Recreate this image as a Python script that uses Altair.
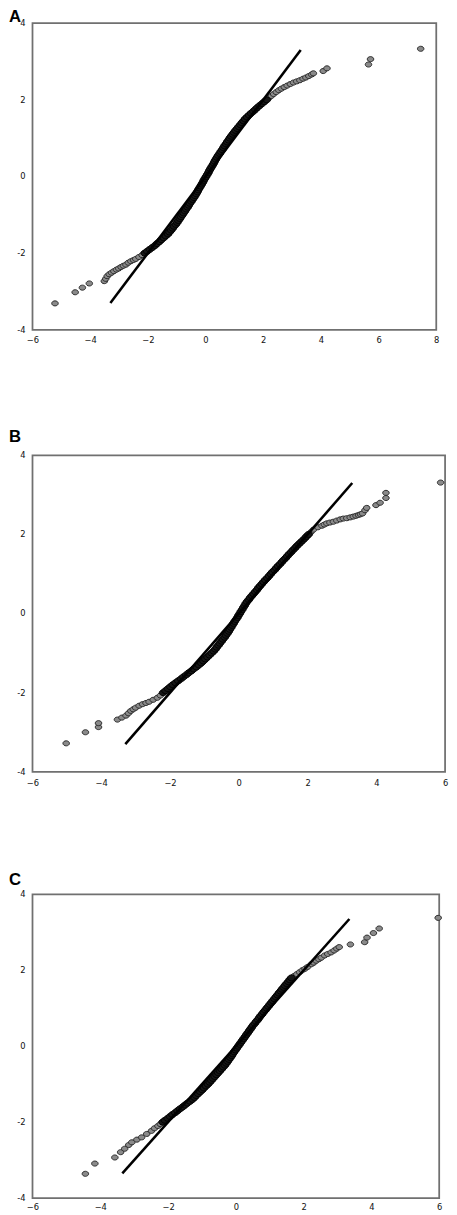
import altair as alt
import pandas as pd

# theoretical quantiles of the dense central band (shared by the three panels)
BAND_Y = [-2.00, -1.95, -1.90, -1.85, -1.80, -1.75, -1.70, -1.65, -1.60, -1.55,
          -1.50, -1.45, -1.40, -1.35, -1.30, -1.25, -1.20, -1.15, -1.10, -1.05,
          -1.00, -0.95, -0.90, -0.85, -0.80, -0.75, -0.70, -0.65, -0.60, -0.55,
          -0.50, -0.45, -0.40, -0.35, -0.30, -0.25, -0.20, -0.15, -0.10, -0.05,
          0.00, 0.05, 0.10, 0.15, 0.20, 0.25, 0.30, 0.35, 0.40, 0.45,
          0.50, 0.55, 0.60, 0.65, 0.70, 0.75, 0.80, 0.85, 0.90, 0.95,
          1.00, 1.05, 1.10, 1.15, 1.20, 1.25, 1.30, 1.35, 1.40, 1.45,
          1.50, 1.55, 1.60, 1.65, 1.70, 1.75, 1.80, 1.85, 1.90, 1.95, 2.00]

Y_TICKS = [-4, -2, 0, 2, 4]
Y_TICK_LABELS = ["-4", "-2", "0", "2", "4"]

# ---- Panel A ----
A_LOW = [(-5.22, -3.31), (-4.52, -3.02), (-4.27, -2.90), (-4.03, -2.79), (-3.51, -2.73),
         (-3.46, -2.67), (-3.41, -2.60), (-3.34, -2.55), (-3.26, -2.51), (-3.18, -2.47),
         (-3.09, -2.43), (-3.01, -2.40), (-2.93, -2.36), (-2.85, -2.33), (-2.76, -2.30),
         (-2.68, -2.25), (-2.59, -2.21), (-2.50, -2.18), (-2.42, -2.15), (-2.31, -2.10),
         (-2.20, -2.05)]
A_BAND_X = [-2.11, -2.02, -1.93, -1.84, -1.75, -1.68, -1.60, -1.53, -1.45, -1.38,
            -1.30, -1.25, -1.19, -1.14, -1.09, -1.03, -0.98, -0.94, -0.89, -0.85,
            -0.80, -0.76, -0.71, -0.67, -0.62, -0.58, -0.54, -0.49, -0.45, -0.40,
            -0.36, -0.32, -0.28, -0.25, -0.21, -0.17, -0.13, -0.09, -0.06, -0.02,
            0.02, 0.06, 0.10, 0.13, 0.17, 0.21, 0.25, 0.29, 0.32, 0.36,
            0.40, 0.44, 0.49, 0.53, 0.58, 0.62, 0.66, 0.71, 0.75, 0.80,
            0.84, 0.89, 0.94, 0.99, 1.04, 1.10, 1.15, 1.21, 1.26, 1.32,
            1.37, 1.44, 1.51, 1.58, 1.66, 1.73, 1.80, 1.88, 1.96, 2.04, 2.12]
A_HIGH = [(2.20, 2.05), (2.28, 2.10), (2.36, 2.15), (2.45, 2.20), (2.54, 2.25),
          (2.63, 2.29), (2.73, 2.33), (2.83, 2.37), (2.94, 2.41), (3.05, 2.45),
          (3.16, 2.48), (3.27, 2.51), (3.38, 2.55), (3.48, 2.58), (3.58, 2.62),
          (3.68, 2.66), (3.74, 2.69), (4.08, 2.75), (4.21, 2.82), (5.65, 2.92),
          (5.72, 3.06), (7.46, 3.33)]
A_LINE = [-3.30, 3.30]

# ---- Panel B ----
B_LOW = [(-5.02, -3.28), (-4.46, -3.00), (-4.08, -2.87), (-4.08, -2.77), (-3.53, -2.68),
         (-3.40, -2.63), (-3.28, -2.58), (-3.21, -2.52), (-3.14, -2.46), (-3.07, -2.42),
         (-3.00, -2.38), (-2.90, -2.33), (-2.80, -2.29), (-2.70, -2.26), (-2.61, -2.23),
         (-2.49, -2.18), (-2.37, -2.13), (-2.28, -2.07)]
B_BAND_X = [-2.20, -2.13, -2.06, -1.99, -1.92, -1.84, -1.76, -1.68, -1.61, -1.53,
            -1.46, -1.38, -1.31, -1.23, -1.16, -1.09, -1.03, -0.97, -0.91, -0.85,
            -0.79, -0.73, -0.68, -0.64, -0.59, -0.55, -0.50, -0.46, -0.41, -0.37,
            -0.33, -0.29, -0.26, -0.22, -0.19, -0.15, -0.12, -0.08, -0.04, -0.01,
            0.03, 0.06, 0.10, 0.13, 0.17, 0.20, 0.24, 0.29, 0.33, 0.38,
            0.43, 0.48, 0.53, 0.57, 0.62, 0.67, 0.72, 0.77, 0.83, 0.88,
            0.93, 0.98, 1.04, 1.09, 1.14, 1.20, 1.25, 1.30, 1.36, 1.41,
            1.46, 1.52, 1.57, 1.63, 1.68, 1.74, 1.80, 1.86, 1.92, 1.97, 2.03]
B_HIGH = [(2.10, 2.06), (2.17, 2.12), (2.30, 2.18), (2.42, 2.22), (2.49, 2.25),
          (2.56, 2.28), (2.65, 2.30), (2.75, 2.32), (2.85, 2.35), (2.95, 2.38),
          (3.04, 2.40), (3.14, 2.41), (3.24, 2.43), (3.33, 2.45), (3.41, 2.47),
          (3.48, 2.49), (3.54, 2.51), (3.60, 2.53), (3.67, 2.61), (3.72, 2.67),
          (3.99, 2.74), (4.11, 2.80), (4.28, 2.92), (4.28, 3.05), (5.87, 3.31)]
B_LINE = [-3.30, 3.30]

# ---- Panel C ----
C_LOW = [(-4.44, -3.36), (-4.16, -3.09), (-3.57, -2.93), (-3.40, -2.79), (-3.28, -2.70),
         (-3.16, -2.60), (-3.07, -2.53), (-2.92, -2.46), (-2.78, -2.40), (-2.63, -2.31),
         (-2.49, -2.23), (-2.40, -2.16), (-2.30, -2.10), (-2.23, -2.05)]
C_BAND_X = [-2.16, -2.09, -2.01, -1.94, -1.87, -1.79, -1.72, -1.65, -1.57, -1.50,
            -1.43, -1.35, -1.28, -1.22, -1.17, -1.11, -1.05, -0.99, -0.94, -0.88,
            -0.82, -0.77, -0.72, -0.67, -0.62, -0.57, -0.52, -0.47, -0.42, -0.37,
            -0.32, -0.28, -0.24, -0.20, -0.16, -0.12, -0.09, -0.05, -0.01, 0.03,
            0.07, 0.11, 0.15, 0.19, 0.23, 0.27, 0.31, 0.35, 0.39, 0.43,
            0.47, 0.51, 0.56, 0.60, 0.65, 0.69, 0.73, 0.78, 0.82, 0.87,
            0.91, 0.96, 1.00, 1.05, 1.09, 1.14, 1.18, 1.23, 1.27, 1.32,
            1.36, 1.41, 1.45, 1.50, 1.55, 1.59, 1.64]
C_HIGH = [(1.72, 1.85), (1.80, 1.90), (1.88, 1.95), (1.96, 2.00),
          (2.04, 2.04), (2.12, 2.09), (2.23, 2.16), (2.30, 2.20), (2.37, 2.25),
          (2.45, 2.29), (2.52, 2.33), (2.62, 2.39), (2.71, 2.43), (2.81, 2.47),
          (2.90, 2.52), (2.98, 2.57), (3.05, 2.61), (3.38, 2.68), (3.80, 2.74),
          (3.87, 2.86), (4.06, 2.98), (4.23, 3.10), (5.97, 3.38)]
C_LINE = [-3.35, 3.35]

ELLIPSE = "M -1 0 A 1 0.78 0 1 1 1 0 A 1 0.78 0 1 1 -1 0 Z"


def panel(label, low, band_x, high, line_ends, xmax, w, h, label_dy, xpad):
    tails = pd.DataFrame(low + high, columns=["sample", "theoretical"])
    band = pd.DataFrame(list(zip(band_x, BAND_Y)), columns=["sample", "theoretical"])
    ldf = pd.DataFrame({"sample": line_ends, "theoretical": line_ends})
    tdf = pd.DataFrame({"panel": [label]})
    ydf = pd.DataFrame({"tick": Y_TICKS, "ticklabel": Y_TICK_LABELS})
    xs = alt.Scale(domain=[-6, xmax], nice=False, zero=False)
    ys = alt.Scale(domain=[-4, 4], nice=False, zero=False)
    xax = alt.Axis(values=list(range(-6, xmax + 1, 2)), title=None, labelPadding=xpad,
                   labelFlush=False, labelOverlap=False,
                   labelAlign="center", labelBaseline="top")
    yax = alt.Axis(labels=False, title=None)
    enc = dict(x=alt.X("sample:Q", scale=xs, axis=xax),
               y=alt.Y("theoretical:Q", scale=ys, axis=yax))
    tail_layer = alt.Chart(tails).mark_point(
        shape=ELLIPSE, filled=True, color="#8a8a8a", stroke="#2a2a2a",
        strokeWidth=1, size=44, opacity=1
    ).encode(**enc)
    band_layer = alt.Chart(band).mark_point(
        shape=ELLIPSE, filled=True, color="#161616", stroke="#000000",
        strokeWidth=1, size=60, opacity=1
    ).encode(**enc)
    line_layer = alt.Chart(ldf).mark_line(color="black", strokeWidth=2.6).encode(
        x=alt.X("sample:Q", scale=xs, axis=xax),
        y=alt.Y("theoretical:Q", scale=ys, axis=yax),
    )
    ytick_layer = alt.Chart(ydf).mark_text(
        align="right", baseline="middle", fontSize=8.5, font="DejaVu Sans",
        color="#111111", dx=-7
    ).encode(x=alt.datum(-6), y=alt.Y("tick:Q", scale=ys, axis=yax),
             text="ticklabel:N")
    label_layer = alt.Chart(tdf).mark_text(
        align="left", baseline="alphabetic", fontSize=17, fontWeight="bold",
        font="Liberation Sans", color="black", dx=-24, dy=label_dy
    ).encode(x=alt.datum(-6), y=alt.datum(4), text="panel:N")
    return alt.layer(tail_layer, band_layer, line_layer, ytick_layer,
                     label_layer).properties(width=w, height=h)


a = panel("A", A_LOW, A_BAND_X, A_HIGH, A_LINE, 8, 412, 313, -1, 6)
b = panel("B", B_LOW, B_BAND_X, B_HIGH, B_LINE, 6, 421, 323, -14, 7)
c = panel("C", C_LOW, C_BAND_X, C_HIGH, C_LINE, 6, 415, 310, -10, 4.5)

chart = alt.vconcat(a, b, c, spacing=83).properties(
    padding={"left": 0, "top": -13, "right": 0, "bottom": 0}
).configure_axis(
    domain=False, ticks=False, grid=False, labelFont="DejaVu Sans",
    labelFontSize=8.5, labelColor="#111111"
).configure_view(stroke="#707070", strokeWidth=1.8)

chart.save("out.html", embed_options={"renderer": "svg", "actions": False})
